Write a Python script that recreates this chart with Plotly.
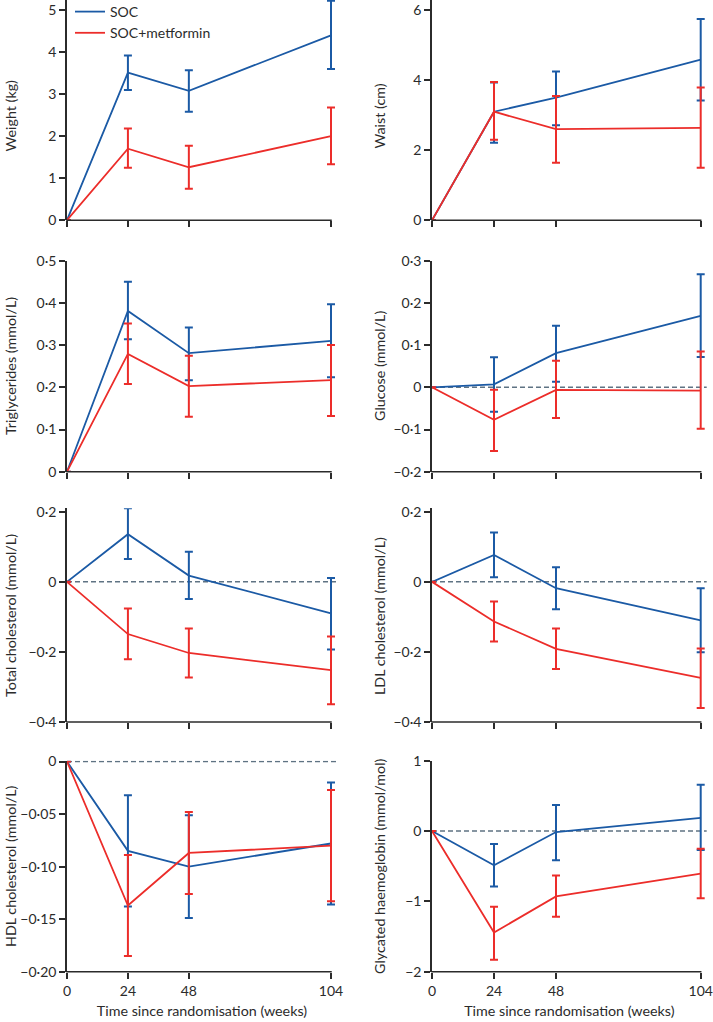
import plotly.graph_objects as go
from plotly.subplots import make_subplots

# weeks since randomisation
weeks = [0, 24, 48, 104]
week_labels = ["0", "24", "48", "104"]

# mean change and CI limits (week 0 has no bar)
weight_soc = [0, 3.51, 3.08, 4.40]
weight_soc_hi = [None, 3.92, 3.57, 5.22]
weight_soc_lo = [None, 3.10, 2.58, 3.60]
weight_met = [0, 1.70, 1.26, 2.00]
weight_met_hi = [None, 2.18, 1.77, 2.68]
weight_met_lo = [None, 1.25, 0.75, 1.33]

waist_soc = [0, 3.10, 3.50, 4.59]
waist_soc_hi = [None, 3.93, 4.25, 5.75]
waist_soc_lo = [None, 2.21, 2.71, 3.42]
waist_met = [0, 3.10, 2.60, 2.64]
waist_met_hi = [None, 3.95, 3.55, 3.79]
waist_met_lo = [None, 2.30, 1.64, 1.50]

trig_soc = [0, 0.381, 0.281, 0.310]
trig_soc_hi = [None, 0.450, 0.342, 0.397]
trig_soc_lo = [None, 0.314, 0.217, 0.224]
trig_met = [0, 0.279, 0.203, 0.217]
trig_met_hi = [None, 0.351, 0.275, 0.300]
trig_met_lo = [None, 0.208, 0.130, 0.132]

gluc_soc = [0, 0.007, 0.081, 0.169]
gluc_soc_hi = [None, 0.071, 0.146, 0.268]
gluc_soc_lo = [None, -0.058, 0.013, 0.072]
gluc_met = [0, -0.077, -0.006, -0.008]
gluc_met_hi = [None, -0.006, 0.063, 0.085]
gluc_met_lo = [None, -0.151, -0.073, -0.098]

tc_soc = [0, 0.136, 0.018, -0.090]
tc_soc_hi = [None, 0.210, 0.086, 0.011]
tc_soc_lo = [None, 0.065, -0.049, -0.193]
tc_met = [0, -0.149, -0.203, -0.252]
tc_met_hi = [None, -0.076, -0.133, -0.156]
tc_met_lo = [None, -0.221, -0.273, -0.349]

ldl_soc = [0, 0.077, -0.018, -0.110]
ldl_soc_hi = [None, 0.141, 0.042, -0.018]
ldl_soc_lo = [None, 0.013, -0.078, -0.201]
ldl_met = [0, -0.113, -0.191, -0.274]
ldl_met_hi = [None, -0.056, -0.133, -0.190]
ldl_met_lo = [None, -0.170, -0.249, -0.360]

hdl_soc = [0, -0.085, -0.100, -0.078]
hdl_soc_hi = [None, -0.032, -0.051, -0.020]
hdl_soc_lo = [None, -0.138, -0.149, -0.136]
hdl_met = [0, -0.137, -0.087, -0.080]
hdl_met_hi = [None, -0.089, -0.048, -0.027]
hdl_met_lo = [None, -0.185, -0.126, -0.133]

hba_soc = [0, -0.486, -0.014, 0.186]
hba_soc_hi = [None, -0.186, 0.371, 0.657]
hba_soc_lo = [None, -0.790, -0.414, -0.271]
hba_met = [0, -1.443, -0.929, -0.605]
hba_met_hi = [None, -1.076, -0.633, -0.252]
hba_met_lo = [None, -1.829, -1.219, -0.957]

# tick labels
weight_ticks = [0, 1, 2, 3, 4, 5]
weight_text = ["0", "1", "2", "3", "4", "5"]
waist_ticks = [0, 2, 4, 6]
waist_text = ["0", "2", "4", "6"]
trig_ticks = [0, 0.1, 0.2, 0.3, 0.4, 0.5]
trig_text = ["0", "0·1", "0·2", "0·3", "0·4", "0·5"]
gluc_ticks = [-0.2, -0.1, 0, 0.1, 0.2, 0.3]
gluc_text = ["−0·2", "−0·1", "0", "0·1", "0·2", "0·3"]
chol_ticks = [-0.4, -0.2, 0, 0.2]
chol_text = ["−0·4", "−0·2", "0", "0·2"]
hdl_ticks = [-0.20, -0.15, -0.10, -0.05, 0]
hdl_text = ["−0·20", "−0·15", "−0·10", "−0·05", "0"]
hba_ticks = [-2, -1, 0, 1]
hba_text = ["−2", "−1", "0", "1"]

BLUE = "#1b5aa5"
RED = "#ec2d2a"
INK = "#2b2b2b"
FONT = "Lato"

W, H = 713, 1022
PAD = 6  # extra px right of week 104 so the end caps are not cut

panels = [
    # row, col, title, soc, met, range, ticks, ticktext, zero line
    (1, 1, "Weight (kg)", (weight_soc, weight_soc_hi, weight_soc_lo),
     (weight_met, weight_met_hi, weight_met_lo), [0, 5.24], weight_ticks, weight_text, False),
    (1, 2, "Waist (cm)", (waist_soc, waist_soc_hi, waist_soc_lo),
     (waist_met, waist_met_hi, waist_met_lo), [0, 6.29], waist_ticks, waist_text, False),
    (2, 1, "Triglycerides (mmol/L)", (trig_soc, trig_soc_hi, trig_soc_lo),
     (trig_met, trig_met_hi, trig_met_lo), [0, 0.5], trig_ticks, trig_text, False),
    (2, 2, "Glucose (mmol/L)", (gluc_soc, gluc_soc_hi, gluc_soc_lo),
     (gluc_met, gluc_met_hi, gluc_met_lo), [-0.2, 0.3], gluc_ticks, gluc_text, True),
    (3, 1, "Total cholesterol (mmol/L)", (tc_soc, tc_soc_hi, tc_soc_lo),
     (tc_met, tc_met_hi, tc_met_lo), [-0.4, 0.21], chol_ticks, chol_text, True),
    (3, 2, "LDL cholesterol (mmol/L)", (ldl_soc, ldl_soc_hi, ldl_soc_lo),
     (ldl_met, ldl_met_hi, ldl_met_lo), [-0.4, 0.21], chol_ticks, chol_text, True),
    (4, 1, "HDL cholesterol (mmol/L)", (hdl_soc, hdl_soc_hi, hdl_soc_lo),
     (hdl_met, hdl_met_hi, hdl_met_lo), [-0.2, 0.0008], hdl_ticks, hdl_text, True),
    (4, 2, "Glycated haemoglobin (mmol/mol)", (hba_soc, hba_soc_hi, hba_soc_lo),
     (hba_met, hba_met_hi, hba_met_lo), [-2, 1], hba_ticks, hba_text, True),
]

# plot areas in pixels: columns (left, right), rows (top, bottom)
col_px = {1: (67, 331), 2: (432, 700.7)}
row_px = {1: (0, 220.2), 2: (260.7, 471.7), 3: (508.3, 722), 4: (760.7, 971.7)}
title_x = {1: 10, 2: 379}
title_y = {1: 115.5, 2: 366, 3: 616, 4: 866}


def errs(mean, hi, lo):
    up = [None if h is None else h - m for m, h in zip(mean, hi)]
    down = [None if l is None else m - l for m, l in zip(mean, lo)]
    return up, down


fig = make_subplots(rows=4, cols=2)

for row, col, title, soc, met, yr, tv, tt, zero in panels:
    first = row == 1 and col == 1
    for name, (m, hi, lo), colour in [("SOC", soc, BLUE), ("SOC+metformin", met, RED)]:
        up, down = errs(m, hi, lo)
        fig.add_trace(go.Scatter(
            x=weeks, y=m, mode="lines", name=name, showlegend=first,
            line=dict(color=colour, width=1.8),
            error_y=dict(type="data", symmetric=False, array=up, arrayminus=down,
                         color=colour, thickness=2, width=4),
        ), row=row, col=col)
    if zero:
        fig.add_hline(y=0, line=dict(color="#5f7383", width=1.5, dash="5px,3px"),
                      row=row, col=col, layer="below")

    x0, x1 = col_px[col]
    y0, y1 = row_px[row]
    xmax = weeks[-1] * (x1 + PAD - x0) / (x1 - x0)
    fig.update_xaxes(
        domain=[x0 / W, (x1 + PAD) / W], range=[0, xmax], automargin=False,
        tickvals=weeks, ticktext=week_labels, showticklabels=(row == 4),
        ticks="outside", ticklen=6, tickwidth=1.5, tickcolor=INK,
        showline=False, showgrid=False, zeroline=False,
        tickfont=dict(family=FONT, size=14, color=INK),
        title=dict(text="Time since randomisation (weeks)" if row == 4 else "",
                   font=dict(family=FONT, size=14.3, color=INK), standoff=8),
        row=row, col=col)
    fig.update_yaxes(
        domain=[1 - y1 / H, 1 - y0 / H], range=yr, automargin=False,
        tickvals=tv, ticktext=tt,
        ticks="outside", ticklen=6, tickwidth=1.5, tickcolor=INK,
        showline=True, linewidth=1.5, linecolor=INK, showgrid=False, zeroline=False,
        tickfont=dict(family=FONT, size=14, color=INK),
        row=row, col=col)
    # x axis line stops at week 104
    fig.add_shape(type="line", xref="paper", yref="paper",
                  x0=(x0 - 0.75) / W, x1=(x1 + 0.75) / W, y0=1 - y1 / H, y1=1 - y1 / H,
                  line=dict(color=INK, width=1.5))
    fig.add_annotation(
        text=title, textangle=-90, xref="paper", yref="paper",
        x=title_x[col] / W, y=1 - title_y[row] / H, xanchor="center", yanchor="middle",
        showarrow=False, font=dict(family=FONT, size=14.3, color=INK))

fig.update_layout(
    width=W, height=H, margin=dict(l=0, r=0, t=0, b=0, autoexpand=False),
    paper_bgcolor="white", plot_bgcolor="white",
    font=dict(family=FONT, color=INK),
    legend=dict(x=70 / W, y=1 + 4 / H, xanchor="left", yanchor="top",
                bgcolor="rgba(0,0,0,0)", itemwidth=30, tracegroupgap=0,
                font=dict(family=FONT, size=14, color=INK)),
)

# page body has an 8px default margin; drop it so the figure fills the window
fig.write_html("out.html", config={"displayModeBar": False},
               post_script="document.body.style.margin='0';")
